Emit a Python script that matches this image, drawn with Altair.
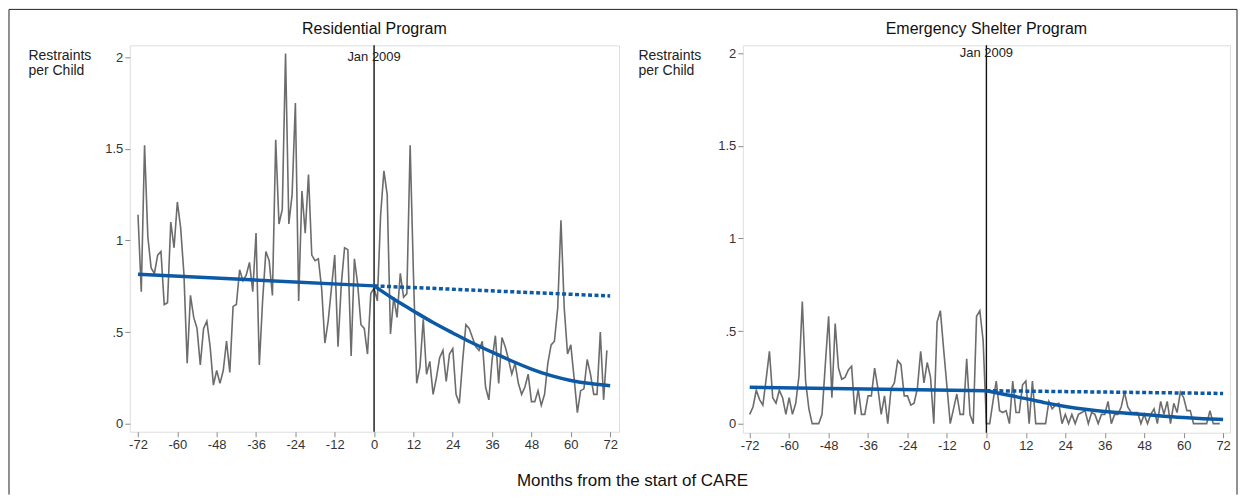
import altair as alt
import pandas as pd

FONT = "Liberation Sans"

months = list(range(-72, 72))

res_rate = [
    1.14, 0.72, 1.52, 1.02, 0.85, 0.82, 0.92, 0.94, 0.65, 0.66, 1.10, 0.96,
    1.21, 1.07, 0.82, 0.33, 0.70, 0.58, 0.52, 0.32, 0.52, 0.56, 0.42, 0.21,
    0.29, 0.22, 0.29, 0.45, 0.28, 0.64, 0.65, 0.84, 0.78, 0.81, 0.88, 0.72,
    1.04, 0.32, 0.67, 0.94, 0.89, 0.70, 1.55, 1.09, 1.17, 2.02, 1.09, 1.25,
    1.75, 0.67, 1.27, 1.04, 1.36, 0.92, 0.89, 0.90, 0.74, 0.44, 0.56, 0.74,
    0.92, 0.42, 0.76, 0.96, 0.95, 0.37, 0.90, 0.76, 0.54, 0.52, 0.38, 0.71,
    0.74, 0.67, 1.14, 1.38, 1.25, 0.49, 0.69, 0.58, 0.82, 0.69, 0.71, 1.52,
    0.82, 0.22, 0.31, 0.57, 0.27, 0.34, 0.16, 0.25, 0.36, 0.40, 0.23, 0.38,
    0.41, 0.16, 0.11, 0.34, 0.54, 0.52, 0.47, 0.42, 0.40, 0.45, 0.20, 0.13,
    0.35, 0.48, 0.22, 0.47, 0.42, 0.35, 0.27, 0.33, 0.22, 0.16, 0.20, 0.27,
    0.12, 0.12, 0.18, 0.10, 0.16, 0.33, 0.43, 0.45, 0.63, 1.11, 0.63, 0.38,
    0.43, 0.25, 0.06, 0.18, 0.19, 0.35, 0.27, 0.16, 0.16, 0.50, 0.13, 0.40,
]

esp_rate = [
    0.05, 0.09, 0.18, 0.13, 0.10, 0.24, 0.39, 0.14, 0.11, 0.18, 0.14, 0.05,
    0.14, 0.05, 0.11, 0.26, 0.66, 0.23, 0.08, 0.00, 0.00, 0.00, 0.05, 0.32,
    0.58, 0.14, 0.54, 0.30, 0.24, 0.25, 0.29, 0.31, 0.05, 0.19, 0.05, 0.05,
    0.15, 0.15, 0.30, 0.19, 0.05, 0.15, 0.00, 0.19, 0.22, 0.34, 0.32, 0.15,
    0.15, 0.10, 0.11, 0.19, 0.39, 0.22, 0.33, 0.25, 0.00, 0.55, 0.61, 0.40,
    0.20, 0.00, 0.08, 0.16, 0.05, 0.05, 0.35, 0.05, 0.00, 0.58, 0.61, 0.45,
    0.00, 0.00, 0.12, 0.23, 0.07, 0.06, 0.07, 0.00, 0.23, 0.06, 0.06, 0.21,
    0.23, 0.00, 0.23, 0.00, 0.00, 0.00, 0.00, 0.12, 0.08, 0.10, 0.11, 0.00,
    0.05, 0.00, 0.05, 0.00, 0.05, 0.06, 0.07, 0.00, 0.06, 0.05, 0.00, 0.05,
    0.05, 0.12, 0.00, 0.05, 0.05, 0.09, 0.17, 0.09, 0.06, 0.06, 0.06, 0.00,
    0.05, 0.00, 0.05, 0.08, 0.00, 0.12, 0.05, 0.12, 0.00, 0.11, 0.06, 0.17,
    0.14, 0.07, 0.07, 0.00, 0.00, 0.00, 0.00, 0.00, 0.07, 0.00, 0.00, 0.00,
]

# fitted segmented-regression lines
pre_months = [-72, 0]
cf_months = [0, 72]
post_months = [0, 6, 12, 18, 24, 30, 36, 42, 48, 54, 60, 66, 72]

res_pre_fit = [0.815, 0.752]
res_cf_fit = [0.752, 0.697]
res_post_fit = [0.752, 0.680, 0.615, 0.552, 0.495, 0.440, 0.390, 0.342,
                0.298, 0.262, 0.236, 0.219, 0.207]

esp_pre_fit = [0.196, 0.178]
esp_cf_fit = [0.178, 0.163]
esp_post_fit = [0.178, 0.156, 0.135, 0.112, 0.093, 0.078, 0.066, 0.057,
                0.049, 0.040, 0.033, 0.027, 0.022]

x_ticks = [-72, -60, -48, -36, -24, -12, 0, 12, 24, 36, 48, 60, 72]
y_ticks = [0, 0.5, 1, 1.5, 2]

panel_titles = ["Residential Program", "Emergency Shelter Program"]
cutoff = pd.DataFrame({"month": [0], "label": ["Jan 2009"]})

GREY = "#6c6c6c"
BLUE = "#0c5aa6"


def panel(title, rate, pre_fit, cf_fit, post_fit, xdom, ydom, w, h,
          jan_y, ytitle_x, xtitle, first):
    xaxis = alt.Axis(
        values=x_ticks, labelExpr="'' + datum.value", grid=False, domain=False,
        tickSize=5, tickColor="#8a8a8a", labelPadding=2, labelFontSize=13,
        labelColor="#333333", labelFont=FONT,
        titleFont=FONT, titleFontSize=17, titleFontWeight="normal",
        titleColor="#111111", titleX=503, titleY=49, titleAlign="center",
        titleBaseline="middle", titleAnchor="start",
    )
    yaxis = alt.Axis(
        values=y_ticks, labelExpr="datum.value == 0.5 ? '.5' : '' + datum.value",
        grid=False, domain=False, tickSize=5, tickColor="#8a8a8a",
        labelPadding=2, labelFontSize=13, labelColor="#333333", labelFont=FONT,
        titleAngle=0, titleX=ytitle_x, titleY=3, titleAlign="left",
        titleBaseline="top", titleLineHeight=15, titleFont=FONT,
        titleFontSize=14, titleFontWeight="normal", titleColor="#222222",
    )
    x_enc = alt.X("month:Q", scale=alt.Scale(domain=xdom, nice=False, zero=False),
                  axis=xaxis, title=xtitle)
    y_enc = alt.Y("rate:Q", scale=alt.Scale(domain=ydom, nice=False, zero=False),
                  axis=yaxis, title=["Restraints", "per Child"])

    series = alt.Chart(pd.DataFrame({"month": months, "rate": rate})).mark_line(
        color=GREY, strokeWidth=1.6).encode(x=x_enc, y=y_enc)
    rule = alt.Chart(cutoff).mark_rule(color="#111111", strokeWidth=1.4).encode(x=x_enc)
    jan = alt.Chart(cutoff).mark_text(
        font=FONT, fontSize=13, color="#222222", align="center", baseline="middle"
    ).encode(x=x_enc, y=alt.value(jan_y), text="label:N")
    pre = alt.Chart(pd.DataFrame({"month": pre_months, "rate": pre_fit})).mark_line(
        color=BLUE, strokeWidth=3.5).encode(x=x_enc, y=y_enc)
    cf = alt.Chart(pd.DataFrame({"month": cf_months, "rate": cf_fit})).mark_line(
        color=BLUE, strokeWidth=3.5, strokeDash=[4, 2.5]).encode(x=x_enc, y=y_enc)
    post = alt.Chart(pd.DataFrame({"month": post_months, "rate": post_fit})).mark_line(
        color=BLUE, strokeWidth=3.5, interpolate="natural").encode(x=x_enc, y=y_enc)
    head = alt.Chart(pd.DataFrame({"t": [title]})).mark_text(
        font=FONT, fontSize=16, color="#111111", align="center", baseline="middle"
    ).encode(x=alt.value(w / 2), y=alt.value(-16), text="t:N")

    layers = [series, rule, jan, cf, pre, post, head]
    if first:
        one = pd.DataFrame({"a": [0]})
        border_v1 = alt.Chart(one).mark_rule(color="#222222", strokeWidth=1).encode(
            x=alt.value(-121), y=alt.value(-36), y2=alt.value(450))
        border_v2 = alt.Chart(one).mark_rule(color="#222222", strokeWidth=1).encode(
            x=alt.value(1109), y=alt.value(-36), y2=alt.value(450))
        border_h = alt.Chart(one).mark_rule(color="#222222", strokeWidth=1).encode(
            x=alt.value(-121), x2=alt.value(1109), y=alt.value(-36))
        layers += [border_v1, border_v2, border_h]

    return alt.layer(*layers).properties(width=w, height=h)


left = panel(panel_titles[0], res_rate, res_pre_fit, res_cf_fit, res_post_fit,
             [-74.5, 74.7], [-0.044, 2.065], 490, 387, 12, -102,
             "Months from the start of CARE", True)
right = panel(panel_titles[1], esp_rate, esp_pre_fit, esp_cf_fit, esp_post_fit,
              [-74.1, 74.1], [-0.049, 2.043], 488, 388, 8, -105, "", False)

chart = alt.hconcat(left, right, spacing=124, bounds="flush").properties(
    padding=0
).configure_view(stroke="#9a9a9a", strokeWidth=1).configure(background="white")

chart.save("out.html", embed_options={"renderer": "svg", "actions": False})
